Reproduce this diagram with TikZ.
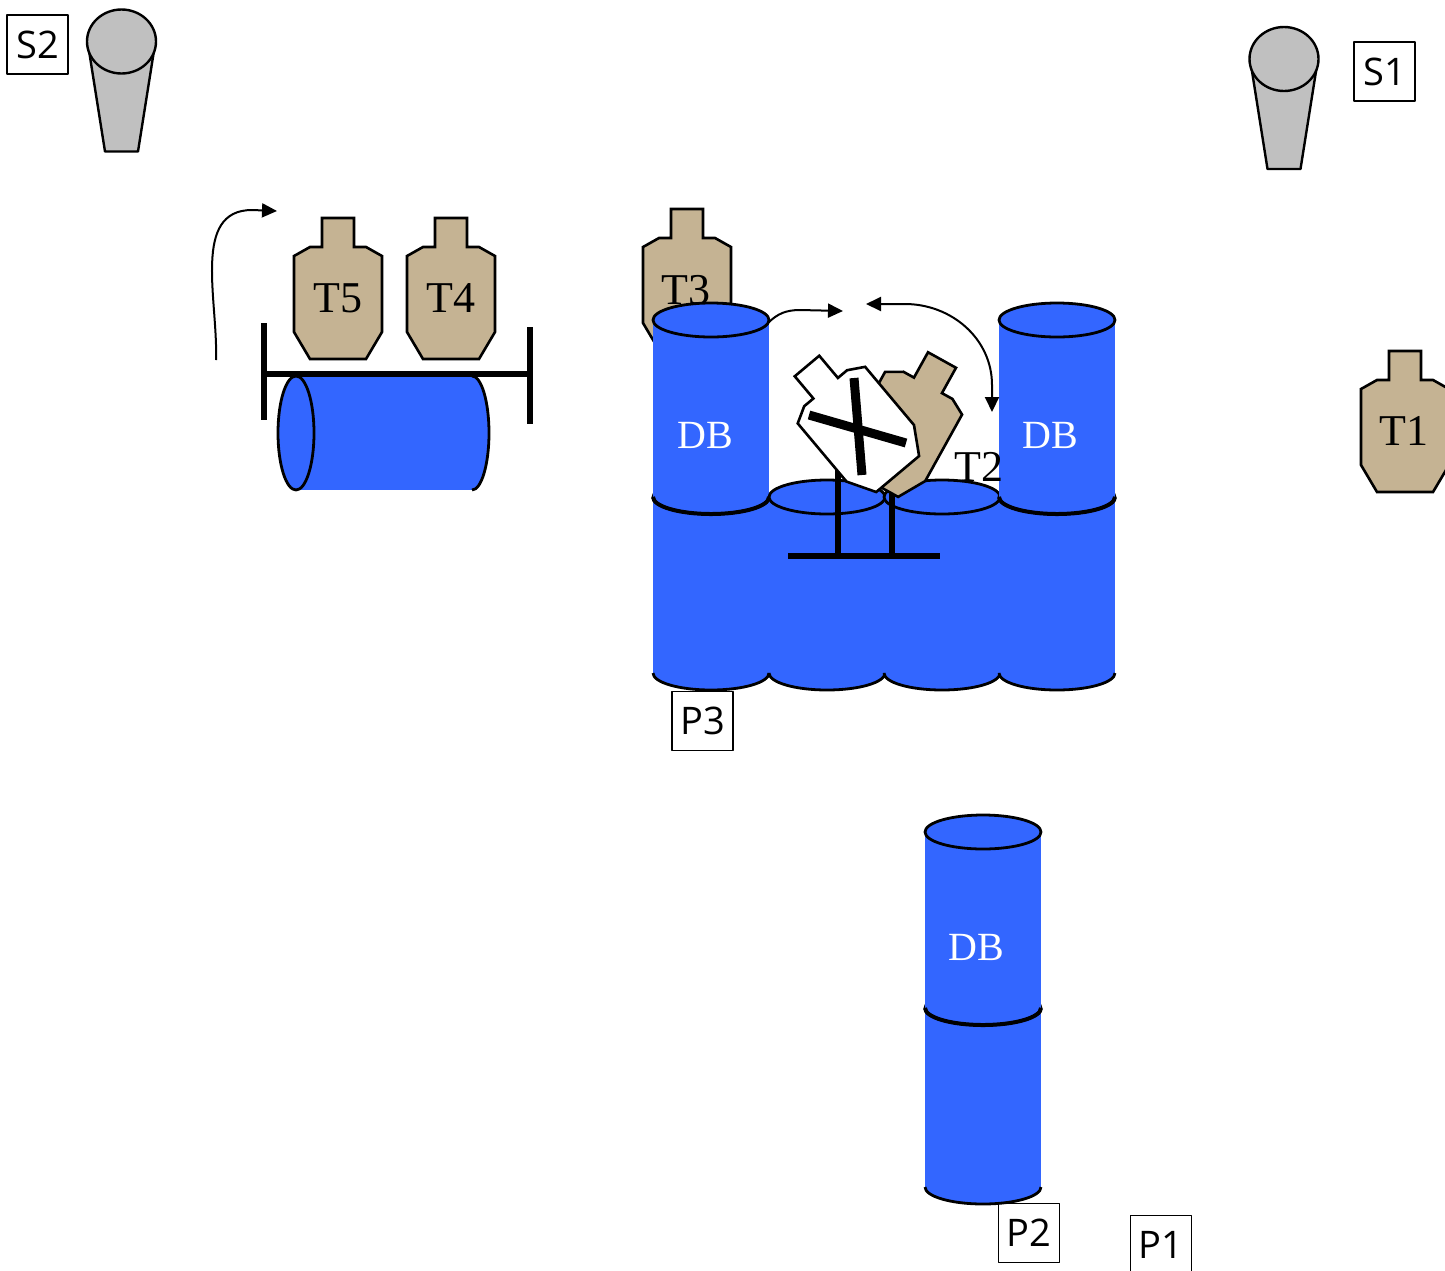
\documentclass[tikz,border=0pt]{standalone}
\usepackage{fontspec}
\setmainfont{Liberation Serif}
\newfontfamily\schildfont{Open Sans}
\usetikzlibrary{arrows.meta}

\definecolor{fassblau}{RGB}{51,102,255}
\definecolor{pappe}{RGB}{197,179,147}
\definecolor{stahlgrau}{RGB}{192,192,192}

% Fass: linker Rand, Deckel, Boden
\newcommand{\fass}[3]{%
  \fill[fassblau] (#1,#2) rectangle (#1+116,#3);
  \filldraw[fill=fassblau, line width=1.4pt] (#1,#3) arc[start angle=180, end angle=0, x radius=58, y radius=17];
  \filldraw[fill=fassblau, line width=1.4pt] (#1+58,#2) ellipse[x radius=58, y radius=17];
}

\tikzset{
  ziel/.style={draw=black, line width=1.3pt, line join=miter},
  schild/.style={draw, line width=0.9pt, minimum width=30.5pt, minimum height=29.5pt, inner sep=0pt,
    font=\schildfont\fontsize{19}{19}\selectfont},
  zahl/.style={inner sep=0pt, font=\fontsize{22}{22}\selectfont},
  fasstext/.style={inner sep=0pt, text=white, font=\fontsize{20}{20}\selectfont},
  balken/.style={line width=2.8pt},
  pfeil/.style={line width=1pt, -{Triangle[length=7.5pt,width=7pt]}},
  pics/scheibe/.style={code={
    \draw[ziel, fill=#1] (-16,0) -- (16,0) -- (16,29) -- (28,29) -- (44,38) -- (44,114) -- (28,141)
      -- (-28,141) -- (-44,114) -- (-44,38) -- (-28,29) -- (-16,29) -- cycle;
  }},
  pics/scheibe/.default=pappe,
  pics/schuetze/.style={code={
    \draw[fill=stahlgrau, line width=1.2pt] (-33,6) -- (-16.5,110) -- (16.5,110) -- (33,6) -- cycle;
    \draw[fill=stahlgrau, line width=1.2pt] (0,0) ellipse[x radius=34.5, y radius=32];
  }}
}

\begin{document}
\begin{tikzpicture}[x=0.5pt, y=-0.5pt, line join=round]
  \useasboundingbox (0,0) rectangle (1445,1270);

  % Schützenpositionen
  \pic at (121.5,41.5) {schuetze};
  \pic at (1284,59) {schuetze};
  \node[schild] (s2) at (37.5,44.5) {S2};
  \node[schild] (s1) at (1384.5,71.5) {S1};

  % Scheiben T5 und T4 auf dem liegenden Fass
  \pic at (338,218) {scheibe};
  \pic at (451,218) {scheibe};
  \node[zahl] (t5) at (338,298) {T5};
  \node[zahl] (t4) at (451,298) {T4};
  \fill[fassblau] (296,376) rectangle (472,490);
  \filldraw[fill=fassblau, line width=1.4pt] (472,376) arc[start angle=-90, end angle=90, x radius=17, y radius=57];
  \filldraw[fill=fassblau, line width=1.4pt] (296,433) ellipse[x radius=18, y radius=57];
  \draw[balken] (264,374) -- (530,374);
  \draw[balken] (264,323) -- (264,420);
  \draw[balken] (530,327) -- (530,424);
  \coordinate (kipp0) at (216,360);
  \coordinate (kipp1) at (277,211);
  \draw[pfeil] (kipp0) to[out=88, in=180] (252,210) -- (kipp1);

  % Scheibe T3 hinter der Fasswand
  \pic at (687,209) {scheibe};
  \node[zahl] (t3) at (686,290) {T3};

  % Fasswand: links und rechts doppelt, Mitte einfach
  \fass{653}{497}{673}
  \fass{653}{320}{497}
  \draw[line width=2pt] (653,497) arc[start angle=180, end angle=0, x radius=58, y radius=17];
  \fass{769}{497}{673}
  \fass{884}{497}{673}
  \fass{999}{497}{673}
  \fass{999}{320}{497}
  \draw[line width=2pt] (999,497) arc[start angle=180, end angle=0, x radius=58, y radius=17];
  \node[fasstext] (db1) at (705,435) {DB};
  \node[fasstext] (db2) at (1050,435) {DB};

  % Schwenkscheibe T2 mit No-Shoot
  \draw[balken] (788,556) -- (940,556);
  \draw[balken] (838,556) -- (838,470);
  \draw[balken] (892,556) -- (892,480);
  \pic[rotate=-29] at (942,360) {scheibe};
  \pic[rotate=40] at (807,366) {scheibe=white};
  \draw[line width=4.5pt] (809,415) -- (906,443) (854,378) -- (862,475);
  \node[zahl] (t2) at (979,467) {T2};
  \coordinate (schwenk0) at (768,323);
  \coordinate (schwenk1) at (843,311);
  \coordinate (schwenk2) at (866,304);
  \coordinate (schwenk3) at (992,412);
  \draw[pfeil] (schwenk0) to[out=45, in=180] (800,310) -- (schwenk1);
  \draw[pfeil, {Triangle[length=7.5pt,width=7pt]}-{Triangle[length=7.5pt,width=7pt]}]
    (schwenk2) -- (905,304) to[out=0, in=90] (992,385) -- (schwenk3);

  % Scheibe T1
  \pic at (1405,351) {scheibe};
  \node[zahl] (t1) at (1404,431) {T1};

  % einzelnes Doppelfass unten
  \fass{925}{1008}{1187}
  \fass{925}{832}{1008}
  \draw[line width=2pt] (925,1008) arc[start angle=180, end angle=0, x radius=58, y radius=17];
  \node[fasstext] (db3) at (976,947) {DB};

  % Startpositionen
  \node[schild] (p3) at (702.5,721) {P3};
  \node[schild] (p2) at (1029,1233) {P2};
  \node[schild] (p1) at (1161,1245) {P1};
\end{tikzpicture}
\end{document}
